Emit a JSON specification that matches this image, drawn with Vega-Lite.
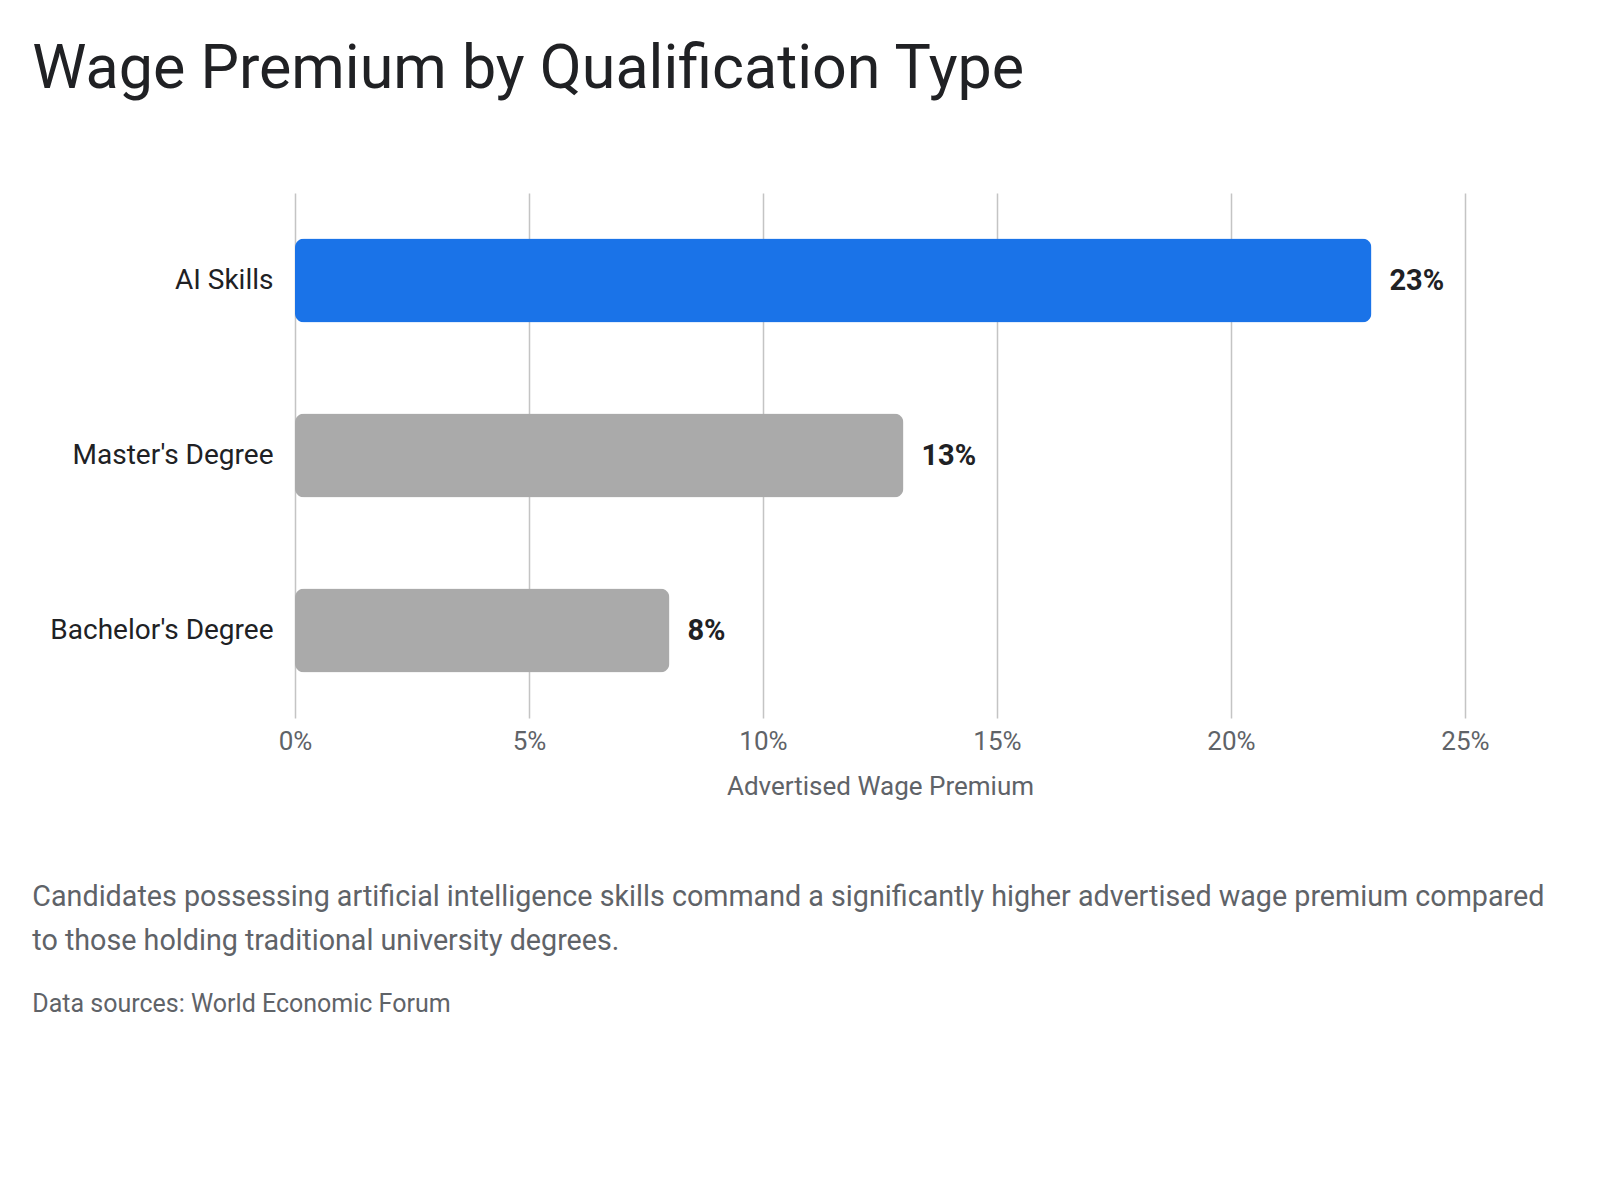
{
  "$schema": "https://vega.github.io/schema/vega-lite/v6.json",
  "background": "white",
  "padding": {"left": 32, "top": 39, "right": 20, "bottom": 20},
  "title": {
    "text": "Wage Premium by Qualification Type",
    "anchor": "start",
    "font": "Roboto",
    "fontSize": 61,
    "fontWeight": 400,
    "color": "#202124",
    "offset": 92
  },
  "vconcat": [
    {
      "width": 1170,
      "height": 525,
      "title": {
        "text": [
          "Candidates possessing artificial intelligence skills command a significantly higher advertised wage premium compared",
          "to those holding traditional university degrees."
        ],
        "subtitle": "Data sources: World Economic Forum",
        "orient": "bottom",
        "anchor": "start",
        "font": "Roboto",
        "fontSize": 28.7,
        "fontWeight": 400,
        "lineHeight": 44,
        "color": "#5f6368",
        "subtitleFont": "Roboto",
        "subtitleFontSize": 25,
        "subtitleColor": "#5f6368",
        "subtitlePadding": 36,
        "offset": 84,
        "dx": -17.5
      },
      "data": {
        "values": [
          {"qualification": "AI Skills", "premium": 0.23},
          {"qualification": "Master's Degree", "premium": 0.13},
          {"qualification": "Bachelor's Degree", "premium": 0.08}
        ]
      },
      "encoding": {
        "y": {
          "field": "qualification",
          "type": "nominal",
          "sort": ["AI Skills", "Master's Degree", "Bachelor's Degree"],
          "scale": {"paddingInner": 0.52, "paddingOuter": 0.26},
          "axis": {
            "title": null,
            "domain": false,
            "ticks": false,
            "grid": false,
            "labelFont": "Roboto",
            "labelFontSize": 28,
            "labelColor": "#202124",
            "labelPadding": 22,
            "labelLimit": 500
          }
        }
      },
      "layer": [
        {
          "mark": {"type": "bar", "cornerRadius": 9},
          "encoding": {
            "x": {
              "field": "premium",
              "type": "quantitative",
              "scale": {"domain": [0, 0.25], "nice": false},
              "axis": {
                "title": "Advertised Wage Premium",
                "format": ".0%",
                "values": [0, 0.05, 0.1, 0.15, 0.2, 0.25],
                "domain": false,
                "ticks": false,
                "grid": true,
                "gridColor": "#c4c4c4",
                "gridWidth": 1.5,
                "labelFlush": false,
                "labelFont": "Roboto",
                "labelFontSize": 26,
                "labelColor": "#5f6368",
                "labelPadding": 10,
                "titleFont": "Roboto",
                "titleFontSize": 26,
                "titleFontWeight": 400,
                "titleColor": "#5f6368",
                "titlePadding": 19
              }
            },
            "color": {
              "field": "qualification",
              "type": "nominal",
              "scale": {
                "domain": ["AI Skills", "Master's Degree", "Bachelor's Degree"],
                "range": ["#1a73e8", "#aaaaaa", "#aaaaaa"]
              },
              "legend": null
            }
          }
        },
        {
          "mark": {
            "type": "text",
            "align": "left",
            "baseline": "middle",
            "dx": 18,
            "font": "Roboto",
            "fontSize": 29,
            "fontWeight": "bold",
            "color": "#202124"
          },
          "encoding": {
            "x": {"field": "premium", "type": "quantitative"},
            "text": {"field": "premium", "type": "quantitative", "format": ".0%"}
          }
        }
      ]
    }
  ],
  "config": {
    "view": {"stroke": null},
    "concat": {"spacing": 0}
  }
}
